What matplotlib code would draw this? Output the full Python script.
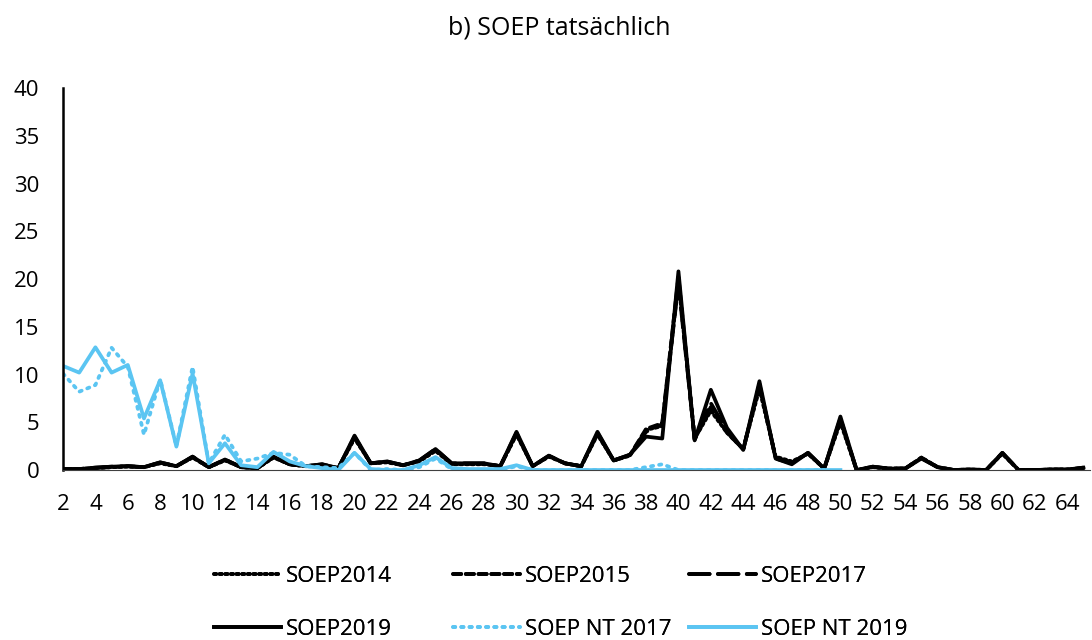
import numpy as np
import matplotlib
matplotlib.use("Agg")
import matplotlib.pyplot as plt

plt.rcParams.update({'font.family': ['Open Sans', 'DejaVu Sans']})

# === Data ===
categories = list(range(2, 66))

soep2019 = [0.1, 0.1, 0.25, 0.35, 0.4, 0.3, 0.8, 0.4, 1.4, 0.3,
            1.1, 0.3, 0.2, 1.4, 0.6, 0.4, 0.6, 0.2, 3.6, 0.7,
            0.9, 0.5, 1.0, 2.2, 0.7, 0.7, 0.7, 0.4, 4.0, 0.4,
            1.5, 0.7, 0.4, 4.0, 1.0, 1.6, 3.5, 3.3, 20.8, 3.1,
            8.4, 4.4, 2.1, 9.3, 1.2, 0.6, 1.8, 0.15, 5.6, 0.0,
            0.35, 0.15, 0.15, 1.2, 0.3, 0.0, 0.05, 0.0, 1.8, 0.0,
            0.0, 0.05, 0.05, 0.25]
soep2014 = [0.1, 0.1, 0.2, 0.3, 0.35, 0.3, 0.7, 0.4, 1.3, 0.3,
            1.0, 0.3, 0.2, 1.3, 0.6, 0.4, 0.5, 0.2, 3.3, 0.7,
            0.8, 0.5, 0.9, 2.0, 0.6, 0.6, 0.6, 0.4, 3.7, 0.4,
            1.4, 0.7, 0.4, 3.7, 1.0, 1.5, 4.2, 4.6, 19.8, 3.3,
            6.2, 3.9, 2.2, 8.5, 1.4, 0.9, 1.7, 0.15, 5.0, 0.0,
            0.3, 0.15, 0.15, 1.3, 0.3, 0.0, 0.05, 0.0, 1.7, 0.0,
            0.0, 0.05, 0.05, 0.2]
soep2015 = [0.1, 0.1, 0.2, 0.3, 0.4, 0.3, 0.75, 0.4, 1.35, 0.3,
            1.05, 0.3, 0.2, 1.35, 0.6, 0.4, 0.55, 0.2, 3.4, 0.7,
            0.85, 0.5, 0.95, 2.1, 0.65, 0.65, 0.65, 0.4, 3.8, 0.4,
            1.45, 0.7, 0.4, 3.8, 1.0, 1.55, 4.3, 4.9, 20.2, 3.2,
            6.6, 3.9, 2.2, 8.8, 1.3, 0.8, 1.75, 0.15, 5.2, 0.0,
            0.3, 0.15, 0.15, 1.3, 0.3, 0.0, 0.05, 0.0, 1.75, 0.0,
            0.0, 0.05, 0.05, 0.2]
soep2017 = [0.1, 0.1, 0.25, 0.35, 0.4, 0.3, 0.8, 0.4, 1.4, 0.3,
            1.1, 0.3, 0.2, 1.4, 0.6, 0.4, 0.6, 0.2, 3.5, 0.7,
            0.9, 0.5, 1.0, 2.2, 0.7, 0.7, 0.7, 0.4, 3.9, 0.4,
            1.5, 0.7, 0.4, 3.9, 1.0, 1.6, 4.0, 4.8, 19.5, 3.2,
            7.0, 4.1, 2.1, 9.0, 1.2, 0.7, 1.8, 0.15, 5.4, 0.0,
            0.35, 0.15, 0.15, 1.25, 0.3, 0.0, 0.05, 0.0, 1.8, 0.0,
            0.0, 0.05, 0.05, 0.25]
nt2017 = [10.1, 8.2, 8.9, 12.8, 10.8, 3.7, 9.5, 2.5, 10.8, 0.7,
          3.7, 0.9, 1.2, 1.8, 1.6, 0.4, 0.3, 0.2, 1.8, 0.0,
          0.1, 0.0, 0.3, 1.2, 0.1, 0.0, 0.0, 0.0, 0.4, 0.0,
          0.0, 0.0, 0.0, 0.0, 0.0, 0.0, 0.3, 0.6, 0.0,
          0.0, 0.0, 0.0, 0.0, 0.0, 0.0, 0.0, 0.0, 0.0] + [None] * 16
nt2019 = [10.9, 10.2, 12.85, 10.2, 11.0, 5.4, 9.4, 2.45, 10.1, 0.7,
          2.8, 0.5, 0.3, 1.9, 0.9, 0.4, 0.2, 0.0, 1.8, 0.1,
          0.0, 0.0, 0.5, 1.35, 0.2, 0.1, 0.1, 0.1, 0.5, 0.0,
          0.0, 0.0, 0.0, 0.0, 0.0, 0.0, 0.0, 0.0, 0.0, 0.0,
          0.0, 0.0, 0.0, 0.0, 0.0, 0.0, 0.0, 0.0, 0.0] + [None] * 15

xticks = list(range(2, 66, 2))

# === Style ===
blue = '#5BC5F2'
series = [
    ("SOEP2014", soep2014, 'black', (0, (0.6, 0.9))),
    ("SOEP2015", soep2015, 'black', (0, (2.2, 1.2))),
    ("SOEP2017", soep2017, 'black', (0, (5.5, 2.2))),
    ("SOEP2019", soep2019, 'black', '-'),
    ("SOEP NT 2017", nt2017, blue, (0, (0.6, 1.6))),
    ("SOEP NT 2019", nt2019, blue, '-'),
]

W, H = 1092, 640
fig = plt.figure(figsize=(W / 100, H / 100), dpi=100)
ax = fig.add_axes([0.0577, 0.2656, 0.9403, 0.5969])

handles = []
for label, vals, col, ls in series:
    y = np.array([np.nan if v is None else v for v in vals], dtype=float)
    h, = ax.plot(categories, y, color=col, linestyle=ls, linewidth=2.7,
                 label=label, solid_joinstyle='round', dash_capstyle='round')
    handles.append(h)

ax.set_xlim(2, 65.4)
ax.set_ylim(0, 40)
ax.set_yticks(range(0, 41, 5))
ax.set_xticks(xticks)
ax.tick_params(axis='both', length=0, labelsize=16)
ax.tick_params(axis='x', pad=17)
ax.tick_params(axis='y', pad=17)
for s in ['top', 'right']:
    ax.spines[s].set_visible(False)
ax.spines['left'].set_linewidth(1.8)
ax.spines['bottom'].set_linewidth(0.8)
ax.spines['bottom'].set_color('#404040')

fig.text(0.512, 0.957, "b) SOEP tatsächlich", ha='center', va='center', fontsize=18)

# legend: three equal-width columns, two rows (row-major like the original)
col_x = [214, 453, 689]
for c in range(3):
    idx = [c, c + 3]
    leg = fig.legend([handles[i] for i in idx], [series[i][0] for i in idx],
                     loc='upper left', bbox_to_anchor=(col_x[c] / W, 1 - 566 / H),
                     frameon=False, fontsize=16, handlelength=3.0,
                     handletextpad=0.25, labelspacing=1.45, borderpad=0,
                     borderaxespad=0)
    fig.add_artist(leg)

fig.savefig("out.png", dpi=100)
